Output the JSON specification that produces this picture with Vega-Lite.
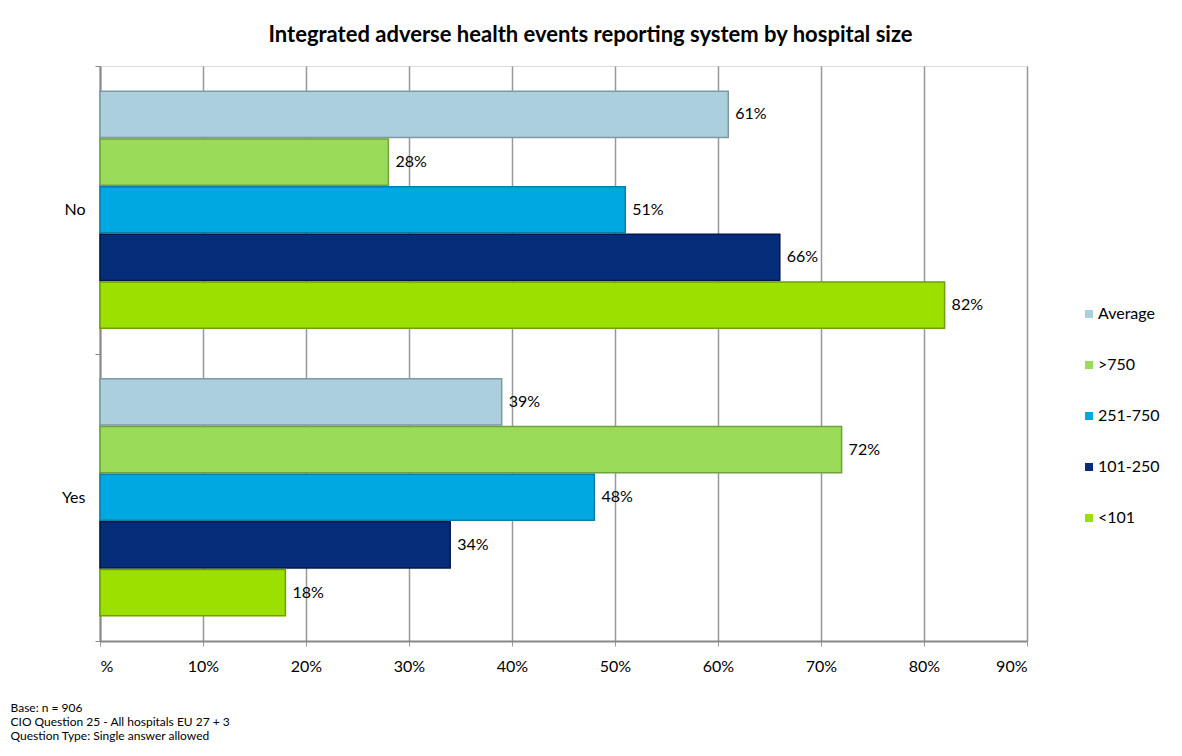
{
  "$schema": "https://vega.github.io/schema/vega-lite/v6.json",
  "autosize": {"type": "none"},
  "width": 927,
  "height": 575,
  "padding": {"left": 100, "top": 66, "right": 155, "bottom": 115},
  "background": "white",
  "title": {
    "text": "Integrated adverse health events reporting system by hospital size",
    "font": "Lato",
    "fontSize": 22,
    "fontWeight": "bold",
    "color": "#000000",
    "anchor": "middle",
    "dx": 27,
    "offset": 11
  },
  "data": {
    "values": [
      {"answer": "No", "size": "Average", "value": 0.61},
      {"answer": "No", "size": ">750", "value": 0.28},
      {"answer": "No", "size": "251-750", "value": 0.51},
      {"answer": "No", "size": "101-250", "value": 0.66},
      {"answer": "No", "size": "<101", "value": 0.82},
      {"answer": "Yes", "size": "Average", "value": 0.39},
      {"answer": "Yes", "size": ">750", "value": 0.72},
      {"answer": "Yes", "size": "251-750", "value": 0.48},
      {"answer": "Yes", "size": "101-250", "value": 0.34},
      {"answer": "Yes", "size": "<101", "value": 0.18}
    ]
  },
  "encoding": {
    "y": {
      "field": "answer",
      "type": "nominal",
      "sort": ["No", "Yes"],
      "scale": {"paddingInner": 0, "paddingOuter": 0},
      "axis": {
        "title": null,
        "grid": false,
        "tickBand": "extent",
        "domainColor": "#888888",
        "domainWidth": 2,
        "tickColor": "#888888",
        "tickSize": 5,
        "labelFont": "Lato",
        "labelFontSize": 16,
        "labelColor": "#000000",
        "labelPadding": 10
      }
    },
    "yOffset": {
      "field": "size",
      "type": "nominal",
      "sort": ["Average", ">750", "251-750", "101-250", "<101"],
      "scale": {"paddingOuter": 0.53, "paddingInner": 0.03}
    },
    "x": {
      "field": "value",
      "type": "quantitative",
      "scale": {"domain": [0, 0.9], "nice": false},
      "axis": {
        "values": [0, 0.1, 0.2, 0.3, 0.4, 0.5, 0.6, 0.7, 0.8, 0.9],
        "labelExpr": "datum.value == 0 ? '%' : format(datum.value, '.0%')",
        "grid": true,
        "gridColor": "#999999",
        "gridWidth": 1.5,
        "domainColor": "#888888",
        "domainWidth": 2,
        "tickColor": "#999999",
        "tickSize": 5,
        "labelFont": "Lato",
        "labelFontSize": 16,
        "labelColor": "#000000",
        "labelPadding": 12,
        "title": ["Base: n = 906", "CIO Question 25 - All hospitals EU 27 + 3", "Question Type: Single answer allowed"],
        "titleFont": "Lato",
        "titleFontSize": 12,
        "titleFontWeight": "normal",
        "titleColor": "#000000",
        "titleAnchor": "start",
        "titleAlign": "left",
        "titleBaseline": "top",
        "titleLineHeight": 14,
        "titleX": -90,
        "titleY": 61
      }
    }
  },
  "layer": [
    {
      "mark": {"type": "bar", "strokeWidth": 1.5},
      "encoding": {
        "color": {
          "field": "size",
          "type": "nominal",
          "sort": ["Average", ">750", "251-750", "101-250", "<101"],
          "scale": {
            "domain": ["Average", ">750", "251-750", "101-250", "<101"],
            "range": ["#ABCFDC", "#9BDB5A", "#00A8E2", "#062D7A", "#9CE000"]
          },
          "legend": {
            "title": null,
            "orient": "none",
            "legendX": 981,
            "legendY": 240,
            "symbolType": "square",
            "symbolSize": 64,
            "symbolStrokeWidth": 0,
            "labelFont": "Lato",
            "labelFontSize": 16,
            "labelColor": "#000000",
            "labelOffset": 1,
            "rowPadding": 35
          }
        },
        "stroke": {
          "field": "size",
          "type": "nominal",
          "scale": {
            "domain": ["Average", ">750", "251-750", "101-250", "<101"],
            "range": ["#7E98A4", "#6FA23C", "#0A7DA8", "#03184A", "#6E9F00"]
          },
          "legend": null
        }
      }
    },
    {
      "mark": {"type": "text", "align": "left", "dx": 7, "font": "Lato", "fontSize": 16, "color": "#000000"},
      "encoding": {
        "text": {"field": "value", "type": "quantitative", "format": ".0%"}
      }
    }
  ]
}
